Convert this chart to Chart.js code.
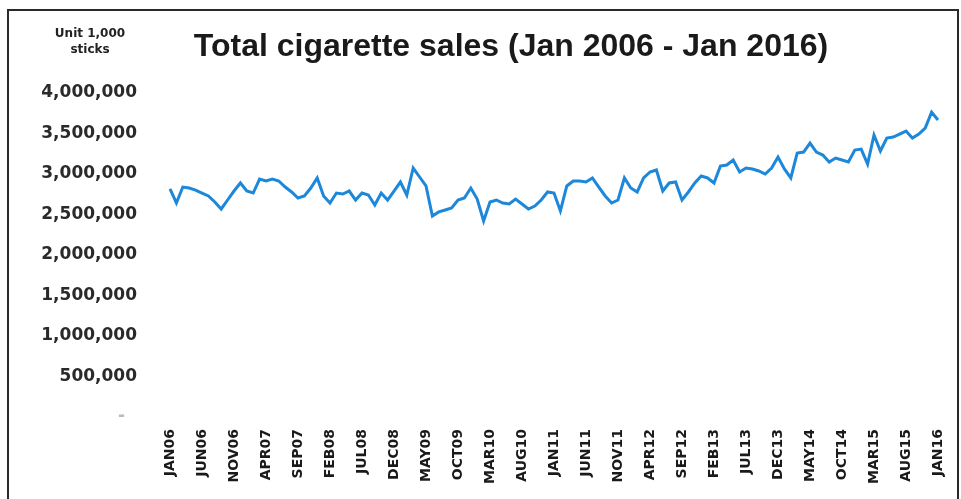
<!DOCTYPE html>
<html>
<head>
<meta charset="utf-8">
<script src="https://cdn.jsdelivr.net/npm/chart.js@4.4.1/dist/chart.umd.min.js"></script>
<style>
  html, body { margin: 0; padding: 0; background: #fff; }
  #wrap { position: relative; width: 961px; height: 499px; }
</style>
</head>
<body>
<div id="wrap"><canvas id="salesChart" width="961" height="499"></canvas></div>
<script>
// ==================== DATA ====================

// MONTH CATEGORIES JAN06 .. JAN16
const monthNames = ["JAN", "FEB", "MAR", "APR", "MAY", "JUN", "JUL", "AUG", "SEP", "OCT", "NOV", "DEC"];
const categories = [];
for (let y = 6; y <= 16; y++) {
    for (let m = 0; m < 12; m++) {
        if (y === 16 && m > 0) break;
        categories.push(monthNames[m] + String(y).padStart(2, "0"));
    }
}

// TOTAL SALES, UNIT 1,000 STICKS
const sales2006 = [2815000, 2642000, 2839000, 2827000, 2802000, 2765000, 2729000, 2655000, 2568000, 2679000, 2790000, 2889000];
const sales2007 = [2790000, 2765000, 2938000, 2914000, 2938000, 2914000, 2839000, 2778000, 2704000, 2729000, 2827000, 2951000];
const sales2008 = [2729000, 2642000, 2765000, 2753000, 2790000, 2679000, 2765000, 2741000, 2617000, 2765000, 2679000, 2790000];
const sales2009 = [2901000, 2741000, 3074000, 2963000, 2852000, 2482000, 2532000, 2556000, 2580000, 2679000, 2704000, 2827000];
const sales2010 = [2691000, 2420000, 2655000, 2679000, 2642000, 2630000, 2691000, 2630000, 2568000, 2605000, 2679000, 2778000];
const sales2011 = [2765000, 2544000, 2852000, 2914000, 2914000, 2901000, 2951000, 2839000, 2729000, 2642000, 2679000, 2951000];
const sales2012 = [2827000, 2778000, 2951000, 3025000, 3050000, 2790000, 2889000, 2901000, 2679000, 2778000, 2889000, 2975000];
const sales2013 = [2951000, 2889000, 3099000, 3111000, 3173000, 3025000, 3074000, 3062000, 3037000, 3000000, 3074000, 3210000];
const sales2014 = [3062000, 2951000, 3259000, 3271000, 3382000, 3271000, 3234000, 3148000, 3197000, 3173000, 3148000, 3296000];
const sales2015 = [3308000, 3123000, 3481000, 3284000, 3444000, 3456000, 3493000, 3530000, 3444000, 3493000, 3567000, 3764000];
const sales2016 = [3666000];

const salesValues = [].concat(sales2006, sales2007, sales2008, sales2009, sales2010,
    sales2011, sales2012, sales2013, sales2014, sales2015, sales2016);

// Y TICKS
const yTickValues = [0, 500000, 1000000, 1500000, 2000000, 2500000, 3000000, 3500000, 4000000];

// ==================== FRAME + TITLE PLUGIN ====================
const frameAndTitle = {
    id: "frameAndTitle",
    beforeDraw(chart) {
        const ctx = chart.ctx;
        ctx.save();
        ctx.fillStyle = "#ffffff";
        ctx.fillRect(0, 0, chart.width, chart.height);
        ctx.strokeStyle = "#2a2a2a";
        ctx.lineWidth = 2;
        ctx.beginPath();
        ctx.moveTo(8, 499);
        ctx.lineTo(8, 10);
        ctx.lineTo(958, 10);
        ctx.lineTo(958, 499);
        ctx.stroke();
        ctx.restore();
    },
    afterDraw(chart) {
        const ctx = chart.ctx;
        ctx.save();
        ctx.fillStyle = "#1a1a1a";
        ctx.textAlign = "center";
        ctx.textBaseline = "alphabetic";
        ctx.font = "bold 32px 'Liberation Sans', Arial, sans-serif";
        ctx.fillText("Total cigarette sales (Jan 2006 - Jan 2016)", 511, 56);

        ctx.fillStyle = "#222";
        ctx.font = "bold 12px 'DejaVu Sans', sans-serif";
        ctx.fillText("Unit 1,000", 90, 37);
        ctx.fillText("sticks", 90, 53);
        ctx.restore();
    }
};

// ==================== CHART ====================
const canvas = document.getElementById("salesChart");

const graphique = new Chart(canvas, {
    type: "line",
    data: {
        labels: categories,
        datasets: [{
            data: salesValues,
            borderColor: "#1d87da",
            borderWidth: 3,
            pointRadius: 0,
            tension: 0,
            fill: false
        }]
    },
    options: {
        responsive: false,
        animation: false,
        layout: {
            padding: { left: 10, right: 23, top: 93, bottom: 0 }
        },
        plugins: {
            legend: { display: false },
            title: { display: false },
            tooltip: { enabled: false }
        },
        scales: {
            x: {
                offset: false,
                grid: { display: false },
                border: { display: false },
                afterFit(scale) { scale.height = 82; },
                ticks: {
                    autoSkip: false,
                    maxRotation: 90,
                    minRotation: 90,
                    padding: 4,
                    color: "#1a1a1a",
                    font: { family: "'DejaVu Sans'", size: 14, weight: "bold" },
                    callback: function (value, index) {
                        return index % 5 === 0 ? this.getLabelForValue(value) : null;
                    }
                }
            },
            y: {
                min: 0,
                max: 4000000,
                grid: { display: false },
                border: { display: false },
                afterFit(scale) { scale.width = 160; },
                afterBuildTicks(scale) {
                    scale.ticks = yTickValues.map(v => ({ value: v }));
                },
                ticks: {
                    padding: 25,
                    color: (c) => c.tick && c.tick.value === 0 ? "#bbbbbb" : "#2a2a2a",
                    font: { family: "'DejaVu Sans'", size: 17, weight: "bold" },
                    callback: function (value) {
                        if (value === 0) return "-  ";
                        return value.toLocaleString("en-US");
                    }
                }
            }
        }
    },
    plugins: [frameAndTitle]
});
</script>
</body>
</html>
